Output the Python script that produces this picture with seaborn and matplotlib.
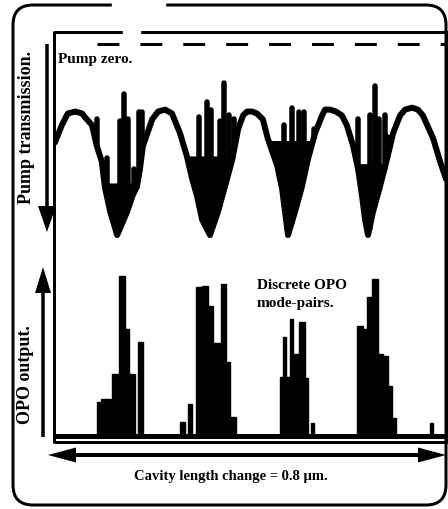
import numpy as np
import matplotlib
matplotlib.use("Agg")
import matplotlib.pyplot as plt
from matplotlib.patches import FancyBboxPatch, Rectangle, FancyArrow
import seaborn as sns

# ---------------------------------------------------------------------------
# Data: cavity length change in nm, pump transmission normalised so that
# 0 = pump zero and 1 = full resonant transmission; OPO output normalised.
# ---------------------------------------------------------------------------
pump_x = [10, 24, 36, 51, 65, 71, 85, 95, 105, 111, 122, 136, 156, 168, 176,
          182, 188, 207, 219, 233, 247, 263, 277, 288, 298, 308, 324, 340,
          354, 369, 381, 391, 399, 409, 419, 431, 441, 460, 470, 476, 482,
          496, 510, 522, 537, 551, 557, 567, 579, 591, 601, 614, 624, 632,
          638, 644, 654, 668, 682, 695, 709, 719, 733, 745, 755, 776, 790,
          802]
pump_t = [0.51, 0.42, 0.36, 0.35, 0.36, 0.38, 0.42, 0.53, 0.61, 0.74, 0.87,
          0.99, 0.87, 0.78, 0.74, 0.65, 0.53, 0.39, 0.35, 0.34, 0.36, 0.46,
          0.58, 0.70, 0.79, 0.91, 0.99, 0.87, 0.74, 0.60, 0.44, 0.37, 0.35,
          0.35, 0.36, 0.39, 0.49, 0.63, 0.75, 0.87, 0.99, 0.87, 0.74, 0.60,
          0.46, 0.37, 0.34, 0.34, 0.35, 0.37, 0.42, 0.53, 0.65, 0.79, 0.91,
          0.99, 0.87, 0.74, 0.60, 0.46, 0.37, 0.34, 0.33, 0.34, 0.37, 0.49,
          0.61, 0.70]

# Unresolved fast oscillation inside each resonance dip
band_from = [95, 277, 441, 601]
band_to = [190, 381, 551, 709]
band_level = [0.72, 0.58, 0.50, 0.62]

# Pump depletion spikes (position, transmission at spike tip)
spike_x = [95, 115, 142, 150, 158, 170, 180, 187,
           302, 318, 327, 344, 353, 363, 373,
           473, 490, 505, 515, 524, 534,
           624, 647, 658, 667, 678, 685]
spike_t = [0.39, 0.59, 0.40, 0.26, 0.39, 0.65, 0.35, 0.35,
           0.38, 0.30, 0.34, 0.40, 0.20, 0.37, 0.39,
           0.42, 0.33, 0.35, 0.35, 0.58, 0.44,
           0.39, 0.37, 0.22, 0.39, 0.37, 0.48]

# Discrete OPO mode-pair bursts (start, end, output level)
opo_start = [95, 103, 126, 140, 152, 160, 178,
             263, 279, 296, 308, 320, 330, 346, 356, 365,
             466, 472, 478, 486, 492, 504, 516, 528,
             622, 634, 642, 652, 664, 674, 684, 693,
             770]
opo_end = [101, 126, 140, 152, 160, 172, 188,
           273, 288, 308, 320, 330, 346, 356, 365, 377,
           472, 478, 486, 492, 504, 516, 522, 535,
           634, 642, 652, 664, 674, 684, 693, 701,
           776]
opo_level = [0.21, 0.23, 0.39, 1.00, 0.67, 0.39, 0.59,
             0.09, 0.20, 0.93, 0.94, 0.81, 0.58, 0.95, 0.46, 0.12,
             0.37, 0.62, 0.37, 0.73, 0.51, 0.71, 0.36, 0.08,
             0.69, 0.67, 0.87, 0.98, 0.51, 0.50, 0.31, 0.11,
             0.08]

baseline_x = [8, 804]
baseline_y = [0.0, 0.0]

pump_zero_from = 95
scan_range = (8.1, 803.9)

# ---------------------------------------------------------------------------
sns.set_style("white")
plt.rcParams["font.family"] = ["Liberation Serif", "DejaVu Serif"]
plt.rcParams["font.weight"] = "bold"

W, H = 448, 510
fig = plt.figure(figsize=(W / 100, H / 100), dpi=100)
fig.patch.set_facecolor("white")


def box(left, top, right, bottom):
    return [left / W, 1 - bottom / H, (right - left) / W, (bottom - top) / H]


ax_p = fig.add_axes(box(54, 33, 447, 250))
ax_o = fig.add_axes(box(54, 250, 447, 443))
for ax in (ax_p, ax_o):
    ax.set_xlim(*scan_range)
    ax.set_axis_off()
    ax.patch.set_alpha(0)
ax_p.set_ylim(1.0622, -0.0622)
ax_o.set_ylim(-0.0375, 1.169)

ink = "black"
px = 0.72  # points per pixel

# --- pump transmission ---
px_arr = np.asarray(pump_x, float)
pt_arr = np.asarray(pump_t, float)
for lo, hi, lev in zip(band_from, band_to, band_level):
    mask = (px_arr >= lo) & (px_arr <= hi) & (pt_arr >= lev)
    ax_p.fill_between(px_arr, pt_arr, lev, where=mask, interpolate=True,
                      color=ink, lw=0)
sns.lineplot(x=pump_x, y=pump_t, ax=ax_p, color=ink, lw=6 * px,
             sort=False, solid_joinstyle="round", solid_capstyle="round")
s_x = np.asarray(spike_x, float)
ax_p.vlines(s_x, spike_t, np.interp(s_x, px_arr, pt_arr), color=ink,
            lw=5.5 * px, capstyle="round")
ax_p.hlines(0, pump_zero_from, scan_range[1] + 10, color=ink, lw=3 * px,
            linestyles=[(0, (7.3, 7.0))])

# --- OPO output ---
widths = np.asarray(opo_end) - np.asarray(opo_start)
ax_o.bar(opo_start, opo_level, width=widths, align="edge", color=ink,
         edgecolor=ink, lw=1.0)
sns.lineplot(x=baseline_x, y=baseline_y, ax=ax_o, color=ink, lw=5 * px)

# --- frame, arrows and labels ---
ov = fig.add_axes([0, 0, 1, 1])
ov.set_xlim(0, W)
ov.set_ylim(H, 0)
ov.set_axis_off()
ov.patch.set_alpha(0)

ov.add_patch(FancyBboxPatch((13, 6), 433, 500,
                            boxstyle="round,pad=0,rounding_size=20",
                            fill=False, ec=ink, lw=3 * px))
ov.add_patch(Rectangle((112, 0), 53, 12, color="white", zorder=3))

frame_kw = dict(color=ink, lw=3 * px, solid_capstyle="butt")
ov.plot([54, 448], [33, 33], **frame_kw)
ov.plot([54, 54], [32, 444], **frame_kw)
ov.plot([54, 448], [443, 443], **frame_kw)
ov.plot([446, 446], [33, 443], **frame_kw)
ov.add_patch(Rectangle((123, 30), 17, 6, color="white", zorder=3))

arrow_kw = dict(color=ink, length_includes_head=True, lw=0)
ov.add_patch(FancyArrow(47, 45, 0, 188, width=3.5, head_width=18,
                        head_length=26, **arrow_kw))
ov.add_patch(FancyArrow(43, 438, 0, -170, width=3.5, head_width=16,
                        head_length=26, **arrow_kw))
ov.add_patch(FancyArrow(247, 456, -199, 0, width=4, head_width=15,
                        head_length=28, **arrow_kw))
ov.add_patch(FancyArrow(247, 456, 199, 0, width=4, head_width=15,
                        head_length=28, **arrow_kw))

txt = dict(color=ink, fontweight="bold")
ov.text(27, 127, "Pump transmission.", rotation=90, ha="center",
        va="center", fontsize=13, **txt)
ov.text(26, 375, "OPO output.", rotation=90, ha="center", va="center",
        fontsize=13, **txt)
ov.text(58, 60, "Pump zero.", ha="left", va="center", fontsize=11, **txt)
ov.text(257, 295, "Discrete OPO\nmode-pairs.", ha="left", va="center",
        fontsize=11, linespacing=1.5, **txt)
ov.text(231, 477, "Cavity length change = 0.8 \u00b5m.", ha="center",
        va="center", fontsize=10.5, **txt)

fig.savefig("out.png", dpi=100, facecolor="white")
